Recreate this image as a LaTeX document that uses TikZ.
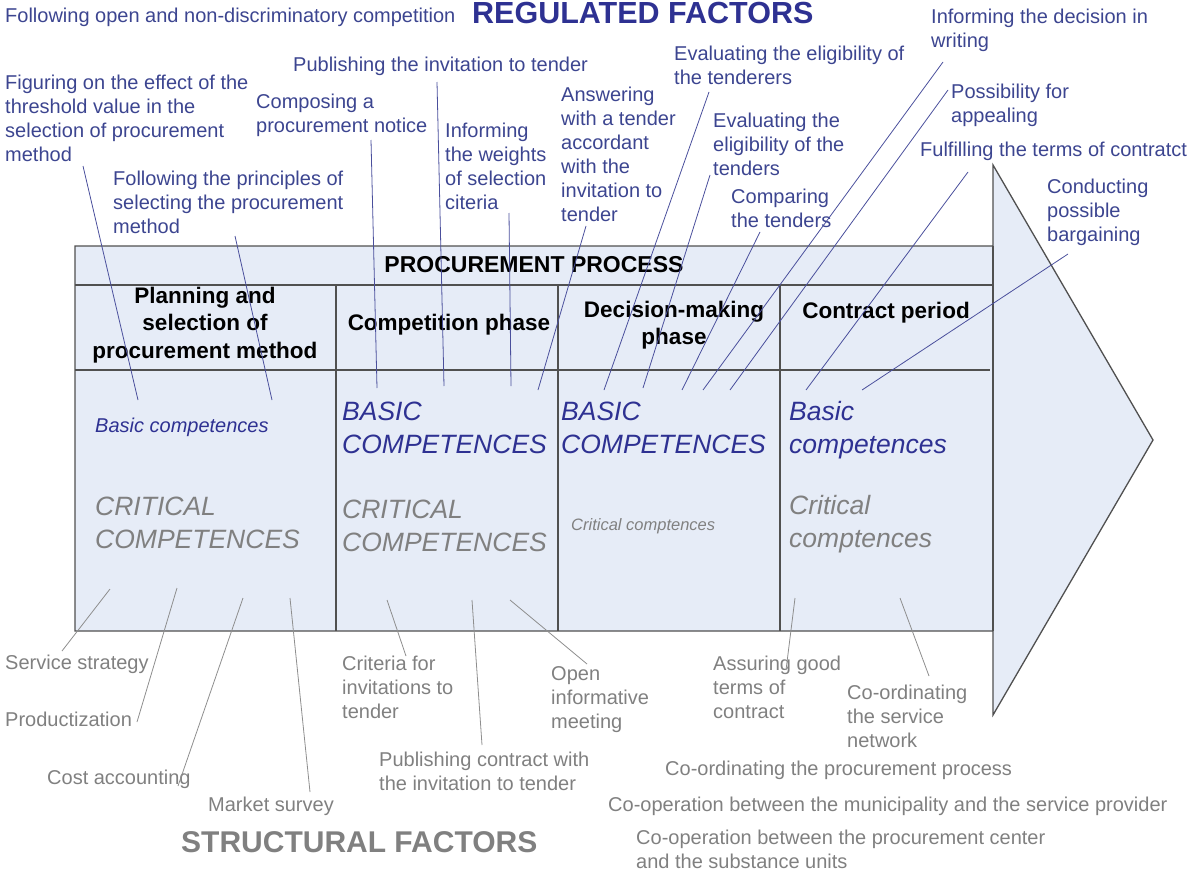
\documentclass[tikz,border=0pt]{standalone}
\usepackage{fontspec}
\setmainfont{Liberation Sans}
\usepackage{xcolor}
\definecolor{regblue}{HTML}{2E3192}
\definecolor{labelblue}{HTML}{3C4590}
\definecolor{leadblue}{HTML}{4A4F9C}
\definecolor{structgray}{HTML}{808080}
\definecolor{leadgray}{HTML}{8E8E8E}
\definecolor{procfill}{HTML}{E6ECF7}
\definecolor{frame}{HTML}{505050}
\tikzset{
  every node/.style={inner sep=0pt},
  reglabel/.style={anchor=north west,align=left,text=labelblue,font=\fontsize{20}{24}\selectfont},
  strlabel/.style={reglabel,text=structgray},
  factortitle/.style={anchor=north west,font=\fontsize{30}{34}\selectfont\bfseries},
  heading/.style={font=\fontsize{23}{27}\selectfont\bfseries},
  phasehead/.style={heading,align=center,font=\fontsize{22.5}{27.5}\selectfont\bfseries},
  bigbasic/.style={anchor=north west,align=left,text=regblue,font=\fontsize{26.5}{33}\selectfont\itshape},
  bigcrit/.style={bigbasic,text=structgray},
  smallbasic/.style={anchor=west,text=regblue,font=\fontsize{20}{24}\selectfont\itshape},
  smallcrit/.style={anchor=west,text=structgray,font=\fontsize{16.5}{20}\selectfont\itshape},
  regline/.style={draw=leadblue,line width=0.8pt},
  strline/.style={draw=leadgray,line width=0.8pt},
  frameline/.style={draw=frame,line width=1.3pt},
}

\begin{document}
\begin{tikzpicture}[x=1pt,y=-1pt]
\useasboundingbox (0,0) rectangle (1193,875);

% process arrow with the phase table in its body
\fill[procfill] (75,246) -- (993,246) -- (993,165) -- (1153,440) -- (993,715) -- (993,631) -- (75,631) -- cycle;
\draw[frameline] (75,246) -- (993,246) -- (993,165) -- (1153,440) -- (993,715) -- (993,631) -- (75,631) -- cycle;
\draw[frameline] (993,246) -- (993,631);
\draw[frameline] (75,285) -- (993,285);
\draw[frameline] (75,370) -- (990,370);
\foreach \x in {336,558,780}{\draw[frameline] (\x,285) -- (\x,631);}

\node[heading] (procTitle) at (534,265) {PROCUREMENT PROCESS};
\node[phasehead] (planning) at (205,325) {Planning and\\selection of\\procurement method};
\node[phasehead] (competition) at (449,325) {Competition phase};
\node[phasehead] (decisionPh) at (674,325) {Decision-making\\phase};
\node[phasehead] (contract) at (886,313) {Contract period};

% competences per phase
\node[smallbasic] (basicPlan) at (95,427) {Basic competences};
\node[bigbasic] (basicComp) at (342,402) {BASIC\\COMPETENCES};
\node[bigbasic] (basicDec) at (561,402) {BASIC\\COMPETENCES};
\node[bigbasic] (basicCon) at (789,401) {Basic\\competences};
\node[bigcrit] (critPlan) at (95,497) {CRITICAL\\COMPETENCES};
\node[bigcrit] (critComp) at (342,500) {CRITICAL\\COMPETENCES};
\node[smallcrit] (critDec) at (571,526) {Critical comptences};
\node[bigcrit] (critCon) at (789,495) {Critical\\comptences};

% regulated factors
\node[factortitle,text=regblue,font=\fontsize{30.5}{35}\selectfont\bfseries] (regTitle) at (472,2) {REGULATED FACTORS};
\node[reglabel] (openComp) at (5,8) {Following open and non-discriminatory competition};
\node[reglabel] (threshold) at (5,75) {Figuring on the effect of the\\threshold value in the\\selection of procurement\\method};
\node[reglabel] (publishInv) at (293,57) {Publishing the invitation to tender};
\node[reglabel] (notice) at (256,94) {Composing a\\procurement notice};
\node[reglabel] (principles) at (113,171) {Following the principles of\\selecting the procurement\\method};
\node[reglabel] (weights) at (445,123) {Informing\\the weights\\of selection\\citeria};
\node[reglabel] (answer) at (561,87) {Answering\\with a tender\\accordant\\with the\\invitation to\\tender};
\node[reglabel] (tenderers) at (674,46) {Evaluating the eligibility of\\the tenderers};
\node[reglabel] (tenders) at (713,113) {Evaluating the\\eligibility of the\\tenders};
\node[reglabel] (compare) at (731,189) {Comparing\\the tenders};
\node[reglabel] (decision) at (931,9) {Informing the decision in\\writing};
\node[reglabel] (appeal) at (951,84) {Possibility for\\appealing};
\node[reglabel] (fulfil) at (920,142) {Fulfilling the terms of contratct};
\node[reglabel] (bargain) at (1047,179) {Conducting\\possible\\bargaining};

% structural factors
\node[factortitle,text=structgray] (strTitle) at (181,831) {STRUCTURAL FACTORS};
\node[strlabel] (strategy) at (5,655) {Service strategy};
\node[strlabel] (product) at (5,712) {Productization};
\node[strlabel] (costacc) at (47,770) {Cost accounting};
\node[strlabel] (market) at (208,797) {Market survey};
\node[strlabel] (criteria) at (342,656) {Criteria for\\invitations to\\tender};
\node[strlabel] (publishCon) at (379,752) {Publishing contract with\\the invitation to tender};
\node[strlabel] (openMeet) at (551,666) {Open\\informative\\meeting};
\node[strlabel] (goodTerms) at (713,656) {Assuring good\\terms of\\contract};
\node[strlabel] (network) at (847,685) {Co-ordinating\\the service\\network};
\node[strlabel] (coordProc) at (665,761) {Co-ordinating the procurement process};
\node[strlabel] (coopMun) at (608,797) {Co-operation between the municipality and the service provider};
\node[strlabel] (coopCenter) at (636,830) {Co-operation between the procurement center\\and the substance units};

% leader ends
\coordinate (thresholdA) at (83,166);   \coordinate (thresholdB) at (138,400);
\coordinate (principlesA) at (235,236); \coordinate (principlesB) at (272,400);
\coordinate (noticeA) at (371,140);     \coordinate (noticeB) at (377,388);
\coordinate (publishInvA) at (437,82);  \coordinate (publishInvB) at (444,386);
\coordinate (weightsA) at (509,213);    \coordinate (weightsB) at (511,386);
\coordinate (answerA) at (586,226);     \coordinate (answerB) at (538,390);
\coordinate (tenderersA) at (709,92);   \coordinate (tenderersB) at (604,390);
\coordinate (tendersA) at (710,175);    \coordinate (tendersB) at (643,388);
\coordinate (compareA) at (760,232);    \coordinate (compareB) at (682,390);
\coordinate (decisionA) at (943,62);    \coordinate (decisionB) at (703,390);
\coordinate (appealA) at (948,90);      \coordinate (appealB) at (730,390);
\coordinate (fulfilA) at (968,172);     \coordinate (fulfilB) at (806,390);
\coordinate (bargainA) at (1068,254);   \coordinate (bargainB) at (862,390);

\coordinate (strategyA) at (110,589);   \coordinate (strategyB) at (62,651);
\coordinate (productA) at (177,588);    \coordinate (productB) at (137,722);
\coordinate (costaccA) at (243,598);    \coordinate (costaccB) at (178,786);
\coordinate (marketA) at (290,598);     \coordinate (marketB) at (310,792);
\coordinate (criteriaA) at (387,600);   \coordinate (criteriaB) at (406,656);
\coordinate (publishConA) at (472,600); \coordinate (publishConB) at (482,745);
\coordinate (openMeetA) at (510,600);   \coordinate (openMeetB) at (587,664);
\coordinate (goodTermsA) at (795,598);  \coordinate (goodTermsB) at (786,670);
\coordinate (networkA) at (900,598);    \coordinate (networkB) at (929,676);

\foreach \n in {threshold,principles,notice,publishInv,weights,answer,tenderers,tenders,compare,decision,appeal,fulfil,bargain}
  {\draw[regline] (\n A) -- (\n B);}
\foreach \n in {strategy,product,costacc,market,criteria,publishCon,openMeet,goodTerms,network}
  {\draw[strline] (\n A) -- (\n B);}

\end{tikzpicture}
\end{document}
